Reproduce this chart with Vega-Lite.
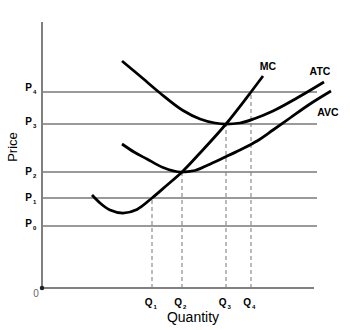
{
  "$schema": "https://vega.github.io/schema/vega-lite/v6.json",
  "width": 350,
  "height": 330,
  "autosize": {"type": "fit", "contains": "padding"},
  "padding": 0,
  "background": "white",
  "config": {"view": {"stroke": null}, "text": {"font": "Liberation Sans"}},
  "encoding": {
    "x": {"field": "x", "type": "quantitative", "scale": {"domain": [-42, 308], "nice": false, "zero": false}, "axis": null},
    "y": {"field": "y", "type": "quantitative", "scale": {"domain": [-42, 288], "nice": false, "zero": false}, "axis": null}
  },
  "layer": [
    {
      "data": {"values": [
        {"name": "P0", "x": 0, "x2": 275, "y": 62},
        {"name": "P1", "x": 0, "x2": 275, "y": 90},
        {"name": "P2", "x": 0, "x2": 275, "y": 116},
        {"name": "P3", "x": 0, "x2": 275, "y": 164},
        {"name": "P4", "x": 0, "x2": 275, "y": 196}
      ]},
      "mark": {"type": "rule", "color": "#9a9a9a", "strokeWidth": 2},
      "encoding": {"x2": {"field": "x2"}}
    },
    {
      "data": {"values": [
        {"name": "Q1", "x": 110, "y": 0, "y2": 90},
        {"name": "Q2", "x": 140, "y": 0, "y2": 116},
        {"name": "Q3", "x": 184, "y": 0, "y2": 164},
        {"name": "Q4", "x": 209, "y": 0, "y2": 196}
      ]},
      "mark": {"type": "rule", "color": "#777777", "strokeWidth": 1, "strokeDash": [4, 3]},
      "encoding": {"y2": {"field": "y2"}}
    },
    {
      "data": {"values": [
        {"x": 0, "y": 0, "x2": 0, "y2": 266},
        {"x": 0, "y": 0, "x2": 272, "y2": 0}
      ]},
      "mark": {"type": "rule", "color": "#808080", "strokeWidth": 2},
      "encoding": {"x2": {"field": "x2"}, "y2": {"field": "y2"}}
    },
    {
      "data": {"values": [
        {"curve": "MC", "x": 50, "y": 93},
        {"curve": "MC", "x": 58, "y": 85},
        {"curve": "MC", "x": 68, "y": 78},
        {"curve": "MC", "x": 81, "y": 75},
        {"curve": "MC", "x": 95, "y": 78.5},
        {"curve": "MC", "x": 110, "y": 90},
        {"curve": "MC", "x": 124, "y": 102},
        {"curve": "MC", "x": 140, "y": 116},
        {"curve": "MC", "x": 158, "y": 135},
        {"curve": "MC", "x": 184, "y": 164},
        {"curve": "MC", "x": 209, "y": 196},
        {"curve": "MC", "x": 221, "y": 212},
        {"curve": "ATC", "x": 80, "y": 227},
        {"curve": "ATC", "x": 98, "y": 212},
        {"curve": "ATC", "x": 118, "y": 195},
        {"curve": "ATC", "x": 141, "y": 177.5},
        {"curve": "ATC", "x": 158, "y": 169},
        {"curve": "ATC", "x": 173, "y": 165},
        {"curve": "ATC", "x": 184, "y": 164},
        {"curve": "ATC", "x": 198, "y": 165},
        {"curve": "ATC", "x": 213, "y": 169.5},
        {"curve": "ATC", "x": 231, "y": 177},
        {"curve": "ATC", "x": 255, "y": 190},
        {"curve": "ATC", "x": 282, "y": 206},
        {"curve": "AVC", "x": 80, "y": 144},
        {"curve": "AVC", "x": 92, "y": 136},
        {"curve": "AVC", "x": 105, "y": 129},
        {"curve": "AVC", "x": 121, "y": 120.5},
        {"curve": "AVC", "x": 139, "y": 116},
        {"curve": "AVC", "x": 153, "y": 117.5},
        {"curve": "AVC", "x": 166, "y": 123},
        {"curve": "AVC", "x": 181, "y": 130},
        {"curve": "AVC", "x": 198, "y": 138},
        {"curve": "AVC", "x": 215, "y": 147},
        {"curve": "AVC", "x": 231, "y": 158},
        {"curve": "AVC", "x": 248, "y": 170},
        {"curve": "AVC", "x": 268, "y": 184},
        {"curve": "AVC", "x": 289, "y": 197}
      ]},
      "mark": {"type": "line", "color": "black", "strokeWidth": 2.75, "interpolate": "monotone"},
      "encoding": {"detail": {"field": "curve"}}
    },
    {
      "data": {"values": [{"x": 0, "y": 0}]},
      "mark": {"type": "point", "filled": true, "size": 20, "color": "#222222", "opacity": 1}
    },
    {
      "data": {"values": [
        {"label": "MC", "x": 226, "y": 221.5},
        {"label": "ATC", "x": 278, "y": 216},
        {"label": "AVC", "x": 286, "y": 175}
      ]},
      "mark": {"type": "text", "fontWeight": "bold", "fontSize": 10.5, "align": "center", "baseline": "middle", "color": "black"},
      "encoding": {"text": {"field": "label"}}
    },
    {
      "data": {"values": [
        {"letter": "P", "sub": "0", "x": -10, "y": 64},
        {"letter": "P", "sub": "1", "x": -10, "y": 90},
        {"letter": "P", "sub": "2", "x": -10, "y": 116},
        {"letter": "P", "sub": "3", "x": -10, "y": 166},
        {"letter": "P", "sub": "4", "x": -10, "y": 200},
        {"letter": "Q", "sub": "1", "x": 110.5, "y": -15},
        {"letter": "Q", "sub": "2", "x": 140, "y": -15},
        {"letter": "Q", "sub": "3", "x": 184.5, "y": -15},
        {"letter": "Q", "sub": "4", "x": 209, "y": -15}
      ]},
      "layer": [
        {
          "mark": {"type": "text", "fontWeight": "bold", "fontSize": 10, "align": "right", "baseline": "middle", "color": "black"},
          "encoding": {"text": {"field": "letter"}}
        },
        {
          "mark": {"type": "text", "fontWeight": "bold", "fontSize": 6, "align": "left", "baseline": "middle", "dx": 1, "dy": 3.5, "color": "black"},
          "encoding": {"text": {"field": "sub"}}
        }
      ]
    },
    {
      "data": {"values": [{"label": "0", "x": -6, "y": -5.5}]},
      "mark": {"type": "text", "fontSize": 10, "align": "center", "baseline": "middle", "color": "#666666"},
      "encoding": {"text": {"field": "label"}}
    },
    {
      "data": {"values": [{"label": "Quantity", "x": 151, "y": -29.5}]},
      "mark": {"type": "text", "fontSize": 14, "align": "center", "baseline": "middle", "color": "black"},
      "encoding": {"text": {"field": "label"}}
    },
    {
      "data": {"values": [{"label": "Price", "x": -29, "y": 141}]},
      "mark": {"type": "text", "fontSize": 13, "angle": 270, "align": "center", "baseline": "middle", "color": "black"},
      "encoding": {"text": {"field": "label"}}
    }
  ]
}
